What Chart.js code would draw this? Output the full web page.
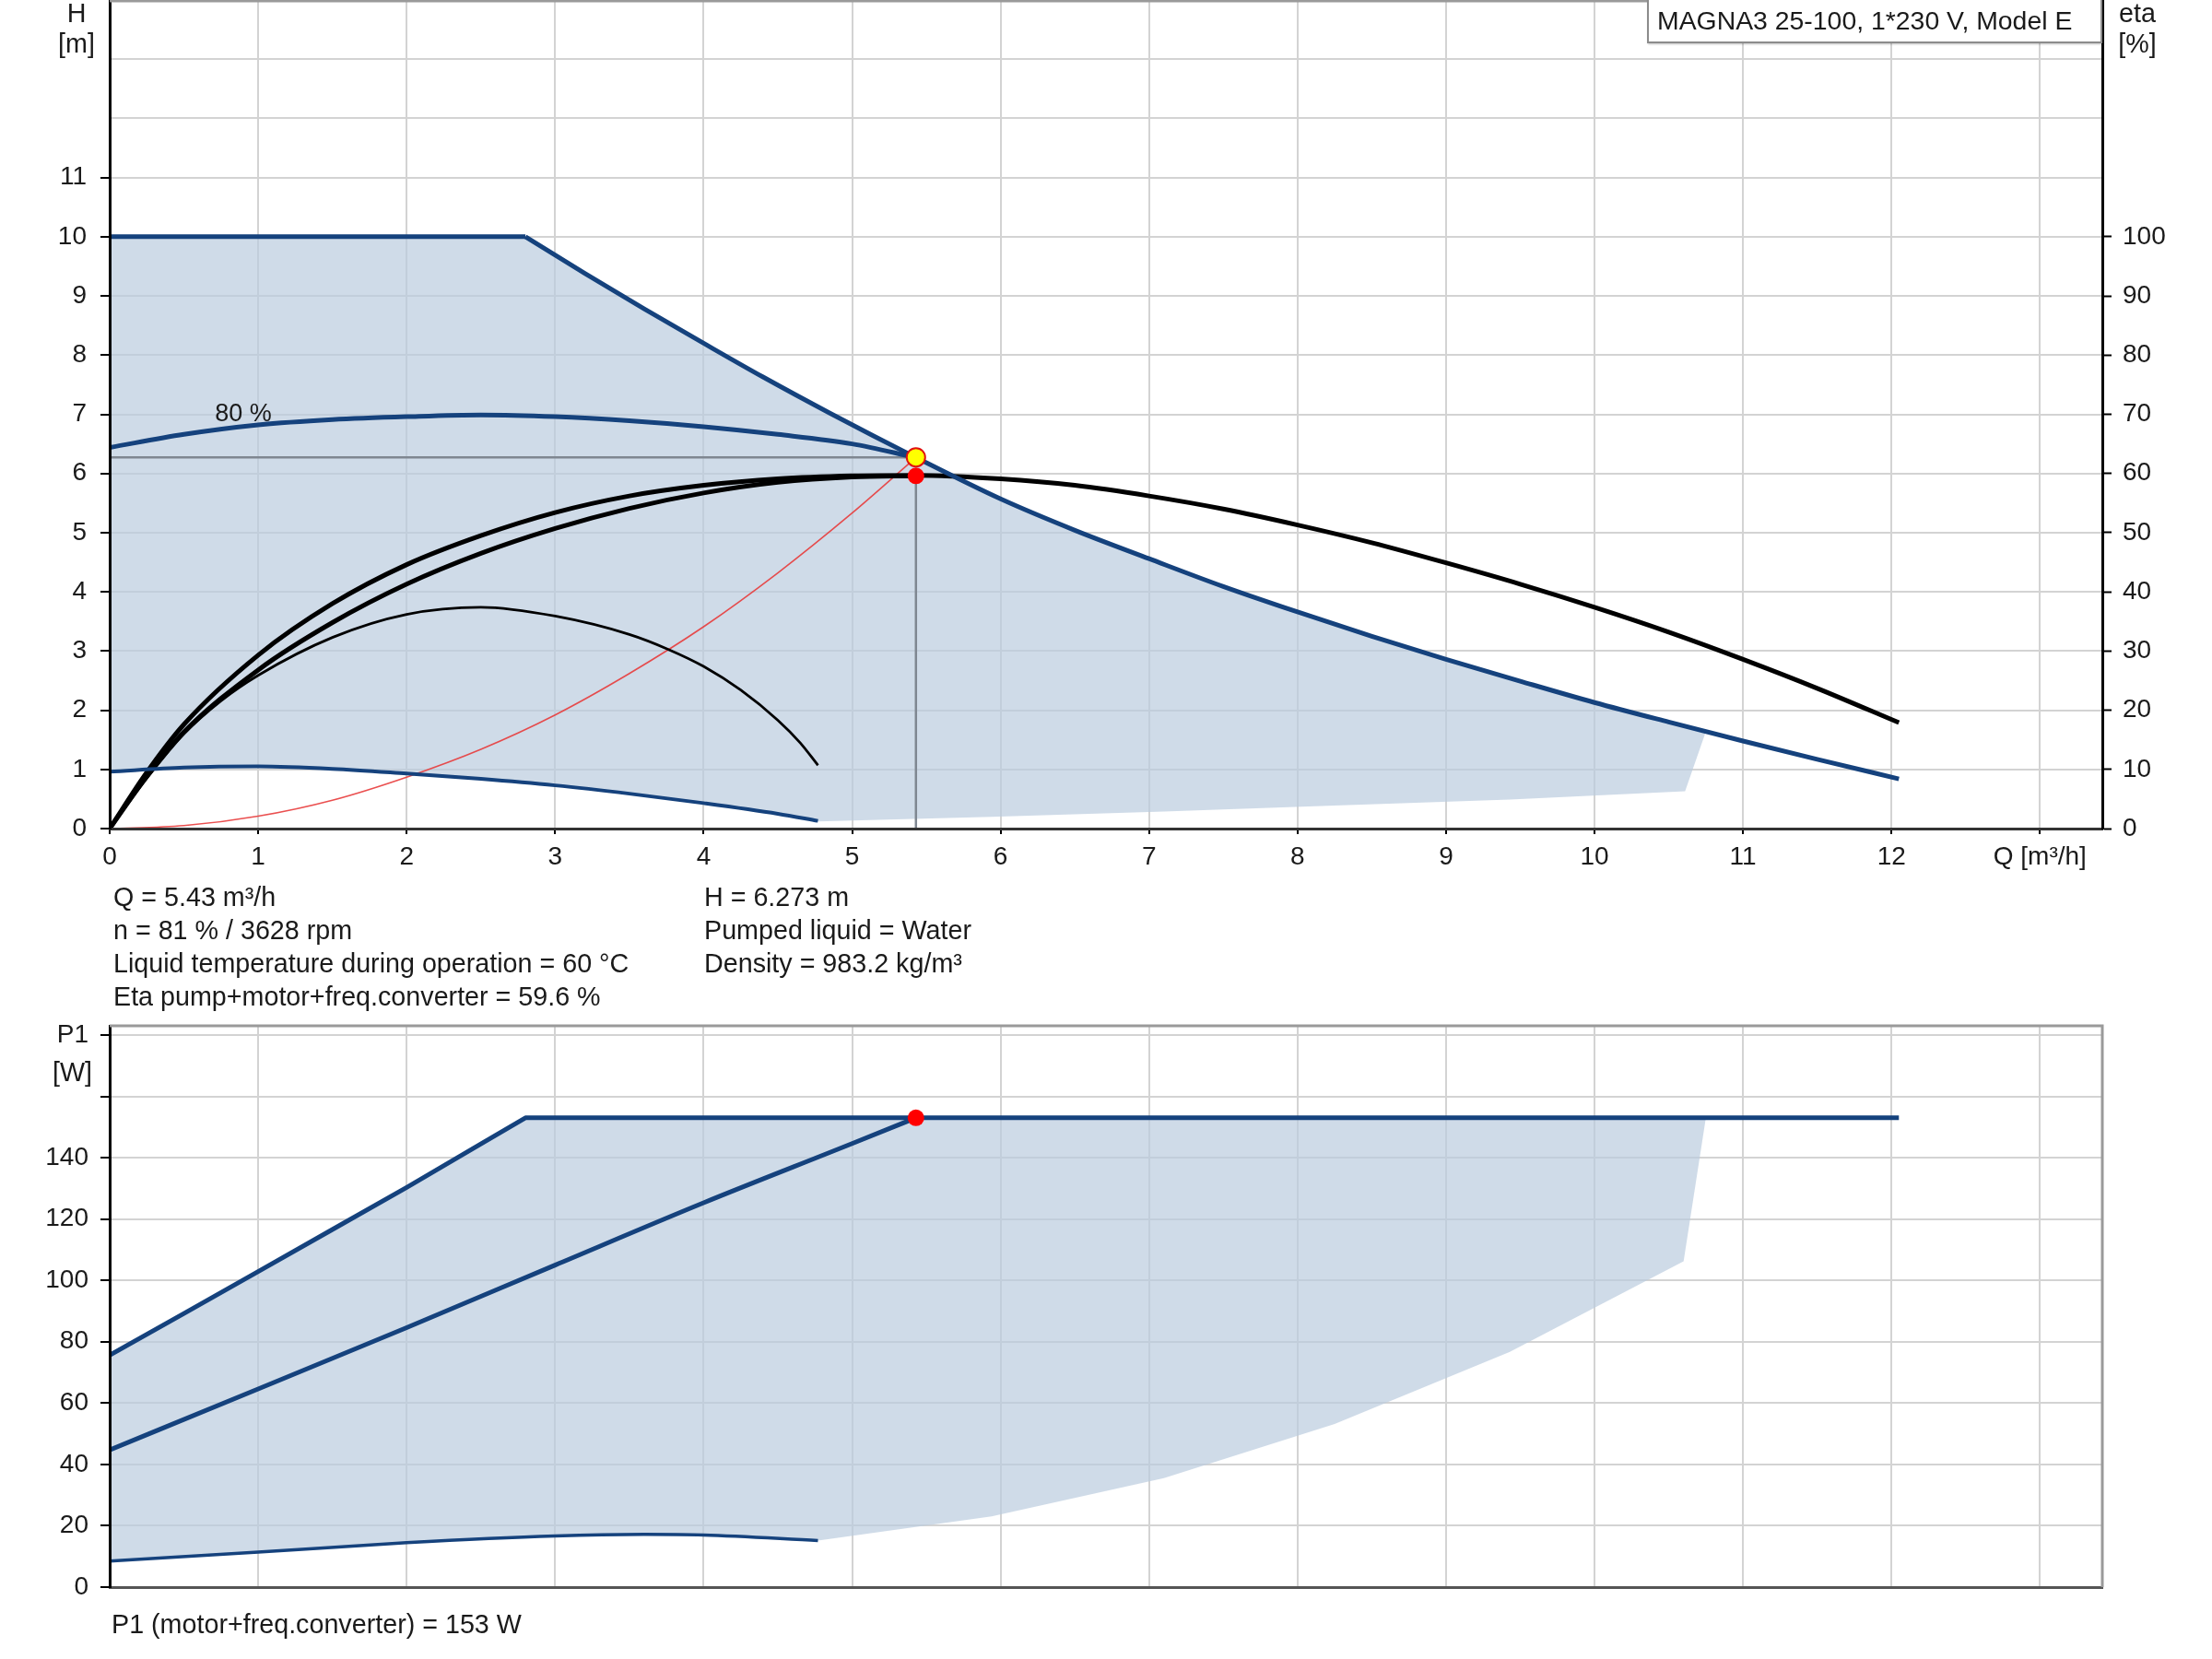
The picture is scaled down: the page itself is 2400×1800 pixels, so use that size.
<!DOCTYPE html>
<html><head><meta charset="utf-8">
<script src="https://cdn.jsdelivr.net/npm/chart.js@4/dist/chart.umd.min.js"></script>
<style>
html,body{margin:0;padding:0;background:#fff;}
body{width:2400px;height:1800px;position:relative;overflow:hidden;font-family:'Liberation Sans',Arial,sans-serif;color:#1a1a1a;}
canvas{position:absolute;left:0;}
#c1{top:0;width:2400px;height:960px;}
#c2{top:1090px;width:2400px;height:710px;}
.t{position:absolute;font-size:28.7px;line-height:36px;white-space:nowrap;z-index:5;}
#legendbox{position:absolute;left:1787px;top:-2px;width:494px;height:49px;box-sizing:border-box;border:2px solid #8c8c8c;background:#fff;font-size:28.4px;line-height:45px;padding-left:9px;white-space:nowrap;z-index:5;box-shadow:1px 1px 2px rgba(0,0,0,0.25);}
</style></head><body>
<canvas id="c1" width="2400" height="960"></canvas>
<canvas id="c2" width="2400" height="710"></canvas>
<div class="t" style="left:43px;top:-2px;width:80px;text-align:center;line-height:33px;">H<br>[m]</div>
<div class="t" style="left:2279px;top:-2px;width:80px;text-align:center;line-height:33px;">eta<br>[%]</div>
<div id="legendbox">MAGNA3 25-100, 1*230 V, Model E</div>
<div class="t" style="left:123px;top:955px;">Q = 5.43 m³/h<br>n = 81 % / 3628 rpm<br>Liquid temperature during operation = 60 °C<br>Eta pump+motor+freq.converter = 59.6 %</div>
<div class="t" style="left:764px;top:955px;">H = 6.273 m<br>Pumped liquid = Water<br>Density = 983.2 kg/m³</div>
<div class="t" style="left:57px;top:1145px;">[W]</div>
<div class="t" style="left:121px;top:1744px;">P1 (motor+freq.converter) = 153 W</div>
<script>
// ---------- DATA ----------
// Axis ticks
const qTicks = [0,1,2,3,4,5,6,7,8,9,10,11,12,13];
const qAxisMax = 13.42;
const hTicks = [0,1,2,3,4,5,6,7,8,9,10,11,12,13];
const hLabelMax = 11;
const hAxisMax = 14;
const etaTicks = [0,10,20,30,40,50,60,70,80,90,100];
const etaAxisMax = 140;
const p1Ticks = [0,20,40,60,80,100,120,140,160,180];
const p1AxisMax = 183;

// Operating point
const opQ = 5.43, opH = 6.273, opEta = 59.6, opP1 = 153;

// Max head curve (H, m): flat part then descending part (kink at index 1)
const qMax = [0, 2.8, 3.2, 3.6, 4.0, 4.4, 4.85, 5.43, 6.0, 6.5, 7.0, 7.5, 8.0, 8.5, 9.0, 9.5, 10.0, 10.5, 11.0, 11.5, 12.05];
const hMax = [10, 10, 9.38, 8.78, 8.2, 7.63, 7.02, 6.27, 5.57, 5.04, 4.56, 4.09, 3.66, 3.25, 2.86, 2.49, 2.13, 1.80, 1.48, 1.17, 0.84];
// 80 % speed curve
const q80 = [0, 0.5, 1, 1.5, 2, 2.5, 3, 3.5, 4, 4.5, 5, 5.43];
const h80 = [6.44, 6.66, 6.82, 6.91, 6.96, 6.99, 6.96, 6.89, 6.79, 6.66, 6.50, 6.27];
// Min speed curve
const qMin = [0, 0.5, 1, 1.5, 2, 2.5, 3, 3.5, 4, 4.5, 4.77];
const hMin = [0.96, 1.03, 1.05, 1.01, 0.93, 0.84, 0.73, 0.59, 0.43, 0.25, 0.13];
// Right/bottom edge of the operating range (head)
const qShadeEdge = [10.75, 10.61, 9.43, 8.25, 7.1, 5.94, 4.77];
const hShadeEdge = [1.64, 0.63, 0.49, 0.39, 0.29, 0.2, 0.12];
// System curve
const qSys = [0, 0.5, 1, 1.5, 2, 2.5, 3, 3.5, 4, 4.5, 5, 5.43];
const hSys = [0, 0.05, 0.21, 0.48, 0.87, 1.34, 1.92, 2.62, 3.41, 4.32, 5.33, 6.27];
// Efficiency curves (eta, %)
const qEta = [0, 0.25, 0.5, 1, 1.5, 2, 2.5, 3, 3.5, 4, 4.5, 5, 5.43, 6, 6.5, 7, 7.5, 8, 8.5, 9, 9.5, 10, 10.5, 11, 11.5, 12.05];
const etaMax = [0, 9.5, 17.6, 29.3, 38.0, 44.6, 49.5, 53.4, 56.2, 58.0, 59.1, 59.6, 59.7, 59.1, 58.0, 56.2, 54.0, 51.3, 48.3, 44.9, 41.3, 37.4, 33.2, 28.6, 23.7, 17.9];
const qEta80 = [0, 0.25, 0.5, 1, 1.5, 2, 2.5, 3, 3.5, 4, 4.5, 5, 5.43];
const eta80 = [0, 8.8, 16.3, 26.8, 34.8, 41.3, 46.5, 50.7, 54.1, 56.7, 58.5, 59.4, 59.6];
const qEtaMin = [0, 0.25, 0.5, 0.75, 1, 1.5, 2, 2.5, 3, 3.5, 3.76, 4, 4.25, 4.5, 4.65, 4.77];
const etaMin = [0, 8.5, 16.0, 21.6, 25.9, 32.3, 36.2, 37.4, 35.9, 32.8, 30.3, 27.4, 23.4, 18.3, 14.5, 10.7];

// Power P1 (W)
const qP1Max = [0, 0.5, 1, 1.5, 2, 2.5, 2.8, 12.05];
const p1Max = [75.6, 89.2, 102.9, 116.6, 130.3, 144.5, 153, 153];
const qP1Op = [0, 1, 2, 3, 4, 5, 5.43];
const p1Op = [44.7, 64.6, 84.6, 105.0, 125.3, 144.6, 153];
const qP1Min = [0, 1, 2, 3, 3.6, 4, 4.77];
const p1Min = [8.5, 11.4, 14.5, 16.7, 17.2, 17.0, 15.2];
const qP1Edge = [10.75, 10.6, 9.43, 8.25, 7.1, 5.94, 4.77];
const p1Edge = [153, 106.2, 76.7, 53.2, 35.5, 23.1, 15.2];

const label80Text = '80 %';
const label80Q = 0.9, label80H = 7.0;

// ---------- STYLE ----------
const FONT = "'Liberation Sans', Arial, sans-serif";
const BLUE = '#15427d';
const FILL = 'rgba(186,204,222,0.70)';
const GRID = '#d3d3d3';
const TXT = '#1a1a1a';
Chart.defaults.font.family = FONT;
Chart.defaults.font.size = 28;
Chart.defaults.color = TXT;

const pts = (xs, ys) => xs.map((x, i) => ({x: x, y: ys[i]}));
const zeroPad = s => { s.paddingTop = 0; s.paddingBottom = 0; s.paddingLeft = 0; s.paddingRight = 0; };
const line = (data, color, width, extra) => Object.assign({
  type: 'line', data: data, borderColor: color, borderWidth: width, pointRadius: 0,
  fill: false, tension: 0, yAxisID: 'y', borderJoinStyle: 'round', borderCapStyle: 'butt'
}, extra || {});

// ---------- TOP CHART ----------
const maxPts = pts(qMax, hMax);
const shadeTop = [].concat(
  maxPts.filter(p => p.x <= 10.5),
  pts(qShadeEdge, hShadeEdge),
  pts(qMin, hMin).reverse()
);

const deco1 = {
  id: 'deco1',
  afterDraw(chart) {
    const {ctx, chartArea: a} = chart;
    ctx.save();
    ctx.strokeStyle = '#9a9a9a'; ctx.lineWidth = 3;
    ctx.beginPath(); ctx.moveTo(a.left, a.top + 1); ctx.lineTo(a.right, a.top + 1); ctx.stroke();
    ctx.restore();
  },
  afterDatasetsDraw(chart) {
    const {ctx, scales} = chart;
    ctx.save();
    ctx.font = '27px ' + FONT; ctx.fillStyle = TXT;
    ctx.textAlign = 'center'; ctx.textBaseline = 'middle';
    ctx.fillText(label80Text, scales.x.getPixelForValue(label80Q), scales.y.getPixelForValue(label80H));
    ctx.restore();
  }
};

new Chart(document.getElementById('c1'), {
  type: 'line',
  data: { datasets: [
    line([{x: opQ, y: opH}], 'red', 2, {showLine: false, pointRadius: 10, pointBackgroundColor: '#ffff00', pointBorderColor: '#e01010', pointBorderWidth: 2, order: 0}),
    line([{x: opQ, y: opEta}], 'red', 0, {showLine: false, pointRadius: 9, pointBackgroundColor: '#ff0000', pointBorderColor: '#ff0000', pointBorderWidth: 0, yAxisID: 'y2', order: 1}),
    line(maxPts.slice(0, 2), BLUE, 5, {order: 2}),
    line(maxPts.slice(1), BLUE, 5, {cubicInterpolationMode: 'monotone', order: 2}),
    line(pts(q80, h80), BLUE, 5, {cubicInterpolationMode: 'monotone', order: 3}),
    line(pts(qMin, hMin), BLUE, 4, {cubicInterpolationMode: 'monotone', order: 4}),
    line(pts(qEta, etaMax), '#000', 5, {cubicInterpolationMode: 'monotone', yAxisID: 'y2', order: 5}),
    line(pts(qEta80, eta80), '#000', 5, {cubicInterpolationMode: 'monotone', yAxisID: 'y2', order: 6}),
    line(pts(qEtaMin, etaMin), '#000', 2.8, {cubicInterpolationMode: 'monotone', yAxisID: 'y2', order: 7}),
    line(pts(qSys, hSys), 'rgba(232,60,60,0.9)', 1.6, {cubicInterpolationMode: 'monotone', order: 8}),
    line([{x: 0, y: opH}, {x: opQ, y: opH}], '#7f8791', 2.5, {order: 9}),
    line([{x: opQ, y: 0}, {x: opQ, y: opEta}], '#7f8791', 2.5, {yAxisID: 'y2', order: 9}),
    line(shadeTop, 'rgba(0,0,0,0)', 0, {fill: 'shape', backgroundColor: FILL, order: 20})
  ]},
  options: {
    responsive: false, animation: false, devicePixelRatio: 1, events: [],
    layout: {padding: 0, autoPadding: false},
    plugins: {legend: {display: false}, tooltip: {enabled: false}},
    scales: {
      x: {
        type: 'linear', position: 'bottom', min: 0, max: qAxisMax,
        afterBuildTicks: s => { s.ticks = qTicks.map(v => ({value: v})); },
        afterFit: s => { s.height = 61; zeroPad(s); },
        ticks: {callback: v => (v === 13 ? 'Q [m³/h]' : String(v)), autoSkip: false, maxRotation: 0, minRotation: 0, padding: 8, color: TXT},
        grid: {color: GRID, lineWidth: 2, tickLength: 6, tickColor: '#000', tickWidth: 2},
        border: {color: '#333', width: 3, z: 1}
      },
      y: {
        type: 'linear', position: 'left', min: 0, max: hAxisMax,
        afterBuildTicks: s => { s.ticks = hTicks.map(v => ({value: v})); },
        afterFit: s => { s.width = 119; zeroPad(s); },
        ticks: {callback: v => (v <= hLabelMax ? String(v) : ''), padding: 15, color: TXT},
        grid: {color: GRID, lineWidth: 2, tickLength: 10, tickWidth: 2,
               tickColor: c => (c.tick && c.tick.value <= hLabelMax ? '#000' : 'rgba(0,0,0,0)')},
        border: {color: '#000', width: 3, z: 1}
      },
      y2: {
        type: 'linear', position: 'right', min: 0, max: etaAxisMax,
        afterBuildTicks: s => { s.ticks = etaTicks.map(v => ({value: v})); },
        afterFit: s => { s.width = 119; zeroPad(s); },
        ticks: {padding: 12, color: TXT},
        grid: {drawOnChartArea: false, tickLength: 10, tickColor: '#000', tickWidth: 2},
        border: {color: '#000', width: 3, z: 1}
      }
    }
  },
  plugins: [deco1]
});

// ---------- BOTTOM CHART ----------
const shadeP1 = [].concat(
  pts(qP1Max, p1Max).filter(p => p.x <= 2.8),
  pts(qP1Edge, p1Edge),
  pts(qP1Min, p1Min).reverse()
);

const deco2 = {
  id: 'deco2',
  afterDraw(chart) {
    const {ctx, chartArea: a} = chart;
    ctx.save();
    ctx.strokeStyle = '#9a9a9a'; ctx.lineWidth = 3;
    ctx.beginPath();
    ctx.moveTo(a.left, a.top); ctx.lineTo(a.right, a.top); ctx.lineTo(a.right, a.bottom);
    ctx.stroke();
    ctx.restore();
  }
};

new Chart(document.getElementById('c2'), {
  type: 'line',
  data: { datasets: [
    line([{x: opQ, y: opP1}], 'red', 0, {showLine: false, pointRadius: 9, pointBackgroundColor: '#ff0000', pointBorderColor: '#ff0000', pointBorderWidth: 0, order: 0}),
    line(pts(qP1Max, p1Max), BLUE, 5, {order: 1}),
    line(pts(qP1Op, p1Op), BLUE, 5, {cubicInterpolationMode: 'monotone', order: 2}),
    line(pts(qP1Min, p1Min), BLUE, 3.5, {cubicInterpolationMode: 'monotone', order: 3}),
    line(shadeP1, 'rgba(0,0,0,0)', 0, {fill: 'shape', backgroundColor: FILL, order: 20})
  ]},
  options: {
    responsive: false, animation: false, devicePixelRatio: 1, events: [],
    layout: {padding: {top: 23, right: 119, left: 0, bottom: 0}, autoPadding: false},
    plugins: {legend: {display: false}, tooltip: {enabled: false}},
    scales: {
      x: {
        type: 'linear', position: 'bottom', min: 0, max: qAxisMax,
        afterBuildTicks: s => { s.ticks = qTicks.map(v => ({value: v})); },
        afterFit: s => { s.height = 78; zeroPad(s); },
        ticks: {display: false},
        grid: {color: GRID, lineWidth: 2, drawTicks: false},
        border: {color: '#555', width: 3, z: 1}
      },
      y: {
        type: 'linear', position: 'left', min: 0, max: p1AxisMax,
        afterBuildTicks: s => { s.ticks = p1Ticks.map(v => ({value: v})); },
        afterFit: s => { s.width = 119; zeroPad(s); },
        ticks: {callback: v => (v === 180 ? 'P1' : (v === 160 ? '' : String(v))), padding: 13, color: TXT},
        grid: {color: GRID, lineWidth: 2, tickLength: 10, tickColor: '#000', tickWidth: 2},
        border: {color: '#000', width: 3, z: 1}
      }
    }
  },
  plugins: [deco2]
});
</script>
</body></html>
